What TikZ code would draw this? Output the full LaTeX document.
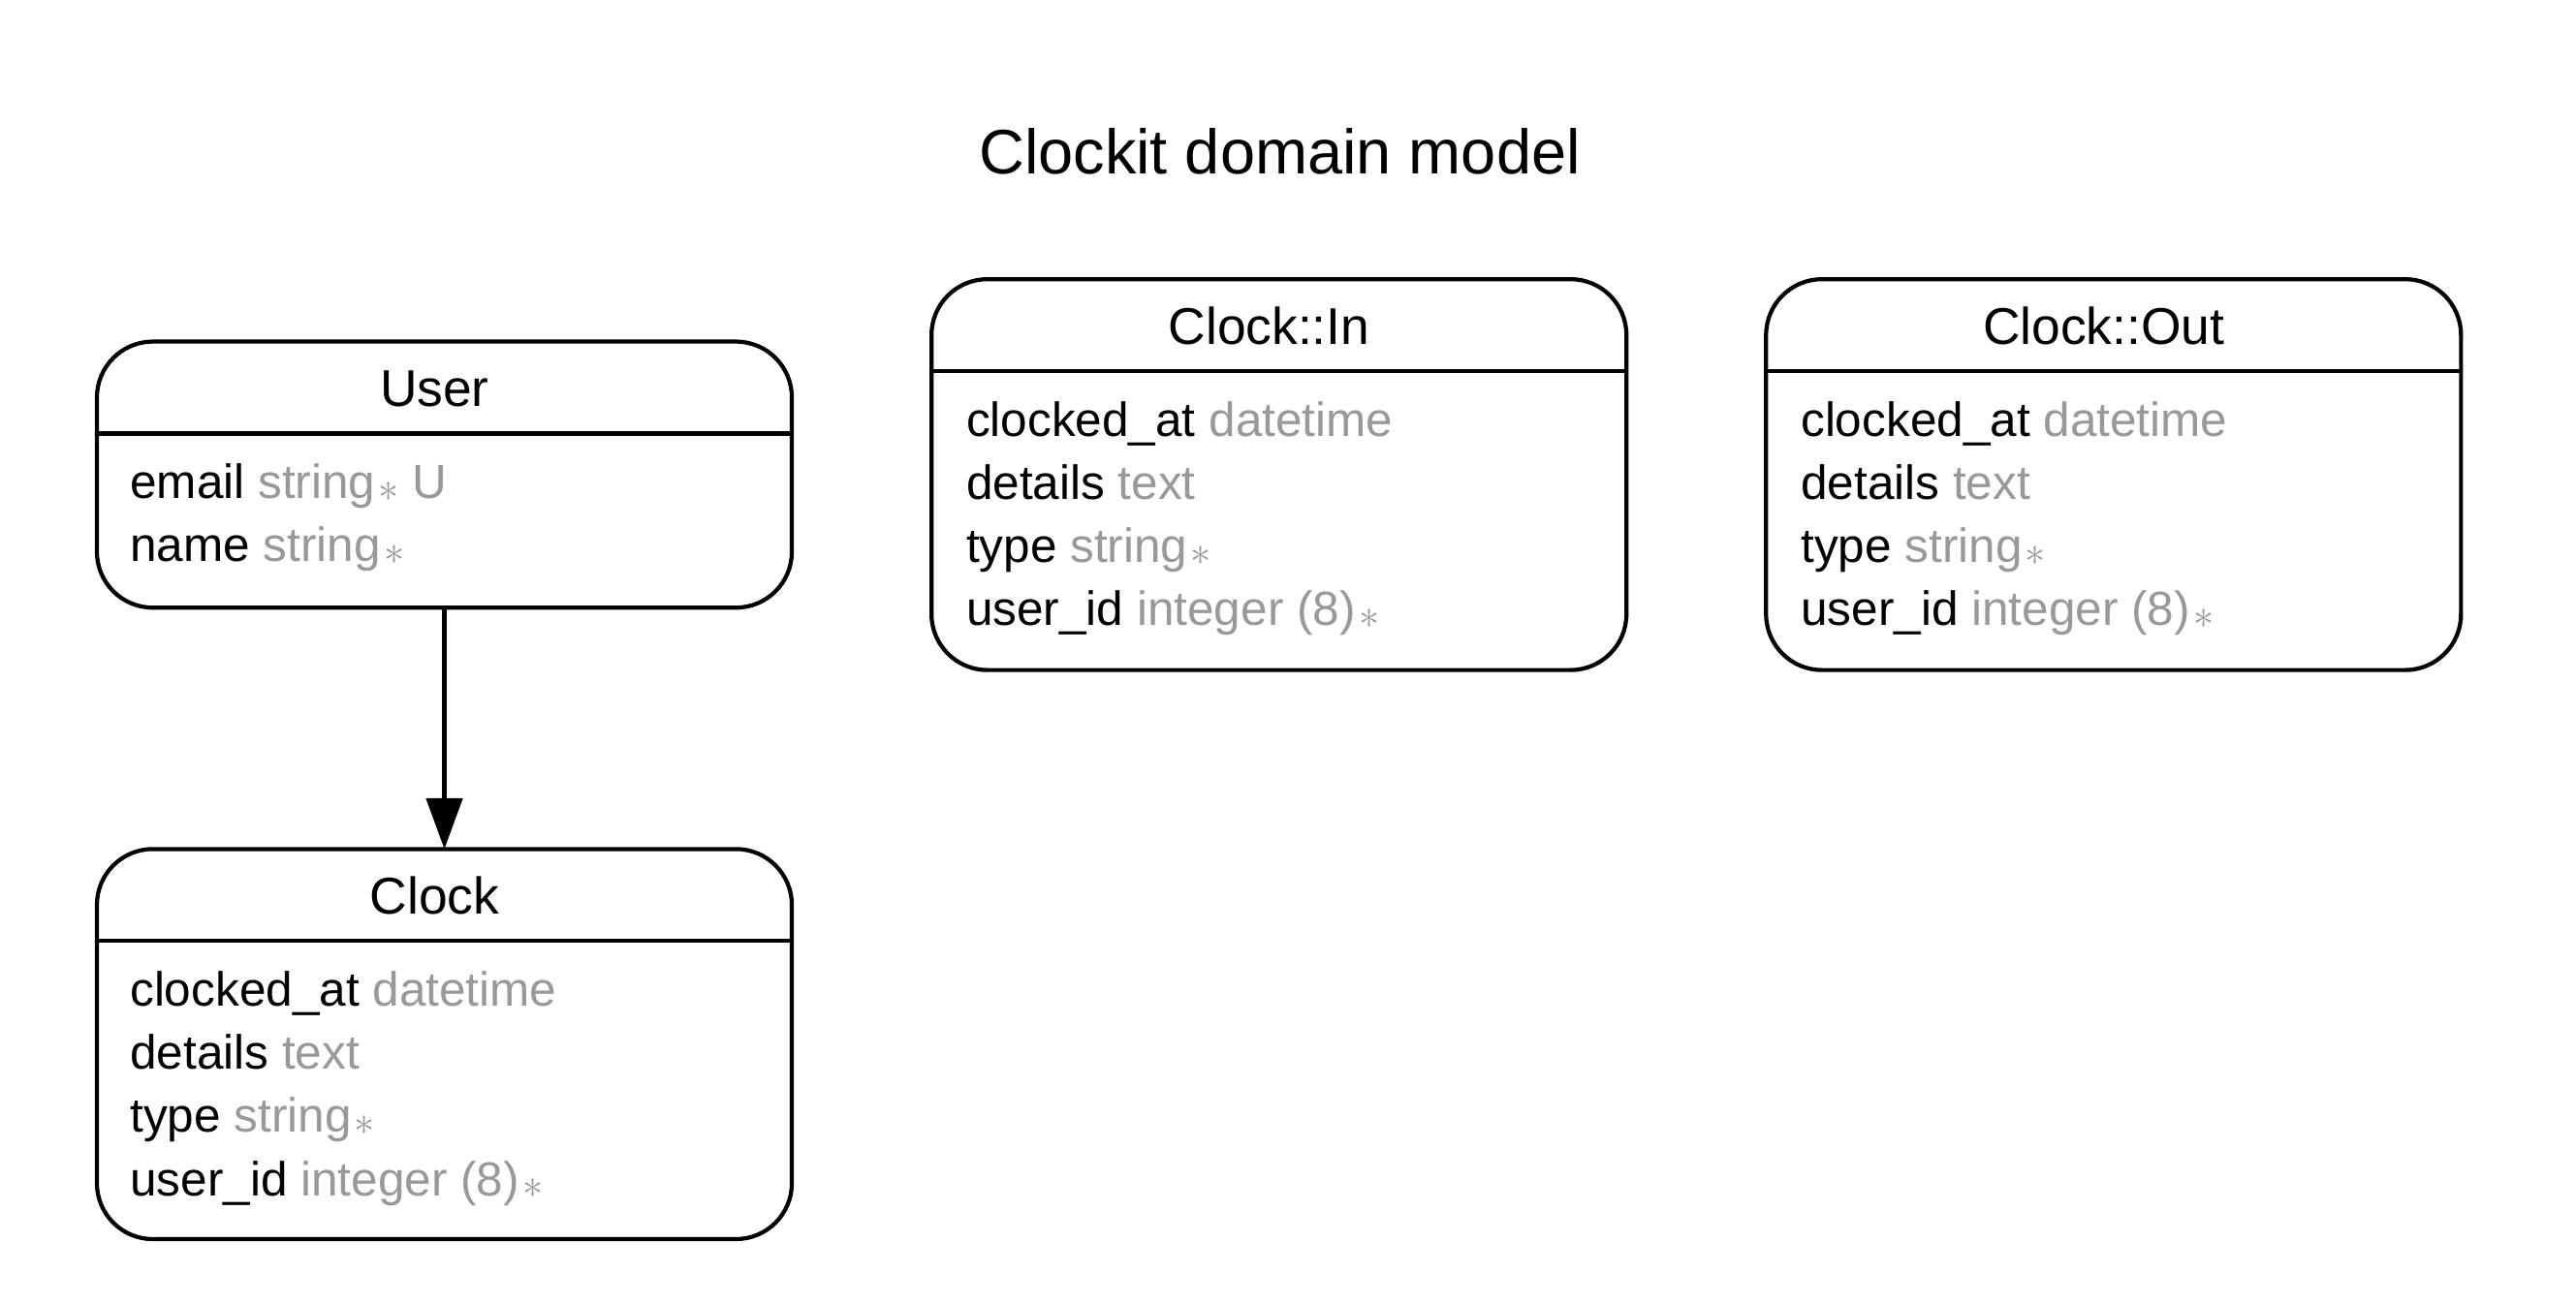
\documentclass[tikz,border=0pt]{standalone}
\usepackage{fontspec}
\setmainfont{Liberation Sans}
\usetikzlibrary{arrows.meta,calc}
\definecolor{typegray}{RGB}{153,153,153}
\newcommand{\ty}[1]{\textcolor{typegray}{#1}}
\newcommand{\req}{\textcolor{typegray}{\hspace{2pt}\raisebox{-1.5pt}{\fontsize{28}{28}\selectfont$\ast$}}}
\begin{document}
\begin{tikzpicture}[x=1pt,y=-1pt,
  entity/.style={draw,line width=2.5pt,rounded corners=34pt,minimum width=423pt,inner sep=0pt,outer sep=0pt,anchor=north west},
  hdr/.style={font=\fontsize{31.5}{38}\selectfont,anchor=base,inner sep=0pt},
  attr/.style={font=\fontsize{29.2}{38}\selectfont,anchor=base west,inner sep=0pt},
  sepline/.style={line width=2.5pt},
  rel/.style={line width=2.5pt,-{Triangle[width=22pt,length=31pt]}},
  ttl/.style={font=\fontsize{38.3}{46}\selectfont,anchor=base,inner sep=0pt}]
\useasboundingbox (0,0) rectangle (1568,794);

\node[ttl] (title) at (779,106) {Clockit domain model};

% User
\node[entity,minimum height=162pt] (user) at (59,208) {};
\draw[sepline] ($(user.north west)+(0,56)$) -- ($(user.north east)+(0,56)$);
\node[hdr] (user-t) at ($(user.north)+(-6,39.5)$) {User};
\node[attr] (user-a1) at (79,303.5) {email \ty{string}\req\ \ty{U}};
\node[attr] (user-a2) at (79,342) {name \ty{string}\req};

% Clock
\node[entity,minimum height=237.5pt] (clock) at (59,517) {};
\draw[sepline] ($(clock.north west)+(0,56)$) -- ($(clock.north east)+(0,56)$);
\node[hdr] (clock-t) at ($(clock.north)+(-6,39.5)$) {Clock};
\node[attr] (clock-a1) at (79,612.5) {clocked\_at \ty{datetime}};
\node[attr] (clock-a2) at (79,651) {details \ty{text}};
\node[attr] (clock-a3) at (79,689.5) {type \ty{string}\req};
\node[attr] (clock-a4) at (79,728) {user\_id \ty{integer (8)}\req};

% Clock::In
\node[entity,minimum height=238pt] (cin) at (567,170) {};
\draw[sepline] ($(cin.north west)+(0,56)$) -- ($(cin.north east)+(0,56)$);
\node[hdr] (cin-t) at ($(cin.north)+(-6,39.5)$) {Clock::In};
\node[attr] (cin-a1) at (588,265.5) {clocked\_at \ty{datetime}};
\node[attr] (cin-a2) at (588,304) {details \ty{text}};
\node[attr] (cin-a3) at (588,342.5) {type \ty{string}\req};
\node[attr] (cin-a4) at (588,381) {user\_id \ty{integer (8)}\req};

% Clock::Out
\node[entity,minimum height=238pt] (cout) at (1075,170) {};
\draw[sepline] ($(cout.north west)+(0,56)$) -- ($(cout.north east)+(0,56)$);
\node[hdr] (cout-t) at ($(cout.north)+(-6,39.5)$) {Clock::Out};
\node[attr] (cout-a1) at (1096,265.5) {clocked\_at \ty{datetime}};
\node[attr] (cout-a2) at (1096,304) {details \ty{text}};
\node[attr] (cout-a3) at (1096,342.5) {type \ty{string}\req};
\node[attr] (cout-a4) at (1096,381) {user\_id \ty{integer (8)}\req};

% relation
\draw[rel] (user.south) -- (clock.north);
\end{tikzpicture}
\end{document}
